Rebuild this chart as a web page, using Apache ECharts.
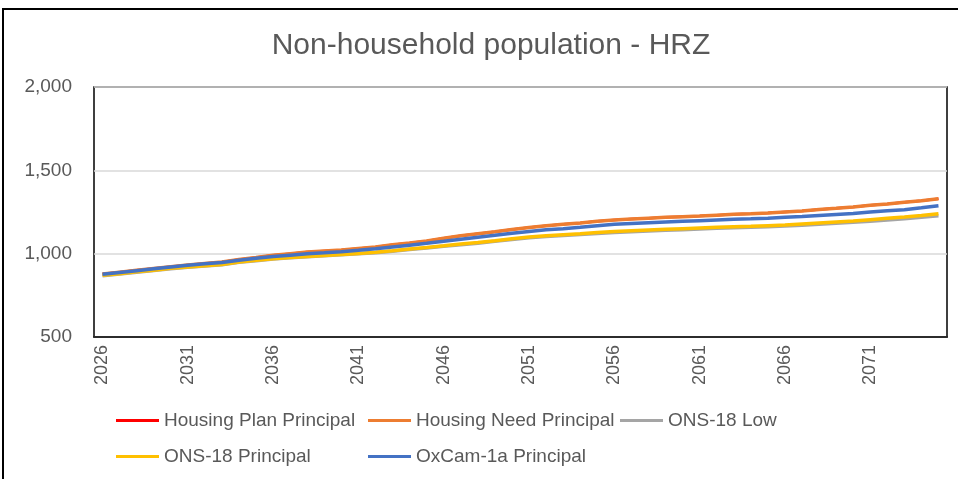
<!DOCTYPE html>
<html>
<head>
<meta charset="utf-8">
<script src="https://cdn.jsdelivr.net/npm/echarts@6/dist/echarts.min.js"></script>
<style>
  html, body { margin: 0; padding: 0; background: #fff; }
  #chart { width: 958px; height: 479px; }
</style>
</head>
<body>
<div id="chart"></div>
<script>
const years = []
for (let y = 2026; y <= 2075; y++) years.push(String(y))

const housingNeed = [878, 889, 900, 911, 922, 932, 941, 950, 965, 977,
  990, 1000, 1010, 1016, 1022, 1031, 1040, 1053, 1064, 1076,
  1092, 1108, 1120, 1132, 1145, 1157, 1168, 1176, 1184, 1195,
  1202, 1208, 1213, 1218, 1222, 1226, 1231, 1236, 1239, 1244,
  1250, 1256, 1265, 1272, 1280, 1290, 1298, 1309, 1318, 1330]

// not visible in the picture: sits under Housing Need
const housingPlan = housingNeed.slice()

const onsLow = [868, 878, 889, 899, 910, 918, 926, 933, 948, 958,
  968, 975, 981, 987, 993, 999, 1006, 1015, 1025, 1034,
  1044, 1054, 1063, 1074, 1085, 1095, 1103, 1109, 1115, 1121,
  1127, 1132, 1136, 1140, 1144, 1148, 1152, 1155, 1158, 1162,
  1166, 1171, 1176, 1182, 1188, 1195, 1202, 1209, 1218, 1228]

const onsPrincipal = [870, 880, 891, 901, 912, 920, 928, 935, 950, 960,
  970, 977, 983, 989, 995, 1001, 1009, 1018, 1028, 1037,
  1047, 1058, 1067, 1078, 1090, 1100, 1108, 1114, 1120, 1127,
  1133, 1138, 1142, 1146, 1150, 1154, 1158, 1161, 1164, 1168,
  1172, 1178, 1184, 1190, 1196, 1204, 1212, 1220, 1229, 1240]

const oxcam = [876, 887, 898, 909, 920, 930, 939, 947, 961, 972,
  983, 991, 999, 1005, 1012, 1020, 1029, 1040, 1051, 1062,
  1074, 1087, 1099, 1110, 1122, 1133, 1143, 1150, 1158, 1168,
  1176, 1181, 1186, 1190, 1194, 1198, 1202, 1206, 1209, 1213,
  1218, 1223, 1229, 1235, 1241, 1250, 1257, 1264, 1275, 1288]

const yTicks = [500, 1000, 1500, 2000]

const names = ['Housing Plan Principal', 'Housing Need Principal', 'ONS-18 Low', 'ONS-18 Principal', 'OxCam-1a Principal']
const colors = ['#FF0000', '#ED7D31', '#A5A5A5', '#FFC000', '#4472C4']
const values = [housingPlan, housingNeed, onsLow, onsPrincipal, oxcam]
// red is thinner so the orange one fully hides it
const widths = [2.5, 3.5, 3.5, 3.5, 3.5]

const font = 'Liberation Sans, Arial, sans-serif'
const textColor = '#595959'

// legend spots, one legend per item so the columns line up like Excel
const legendSpots = [[116, 411], [368, 411], [620, 411], [116, 447], [368, 447]]

const chart = echarts.init(document.getElementById('chart'))

const option = {
  animation: false,
  backgroundColor: '#fff',
  title: {
    text: 'Non-household population - HRZ',
    left: 486,
    top: 26,
    textAlign: 'center',
    textStyle: { fontFamily: font, fontSize: 30, fontWeight: 'normal', color: textColor }
  },
  graphic: [{
    type: 'rect',
    shape: { x: 3, y: 9, width: 1000, height: 500 },
    style: { fill: 'none', stroke: '#000', lineWidth: 2 },
    z: -1
  }],
  legend: names.map((n, i) => ({
    data: [n],
    left: legendSpots[i][0],
    top: legendSpots[i][1],
    padding: 0,
    icon: 'rect',
    itemWidth: 43,
    itemHeight: 3,
    textStyle: { fontFamily: font, fontSize: 19, color: textColor }
  })),
  grid: {
    left: 94, right: 11, top: 87, bottom: 142,
    show: true,
    borderColor: '#000',
    borderWidth: 1.5
  },
  xAxis: {
    type: 'category',
    data: years,
    boundaryGap: true,
    axisLine: { lineStyle: { color: '#000', width: 1.5 } },
    axisTick: { interval: 4, length: 6, lineStyle: { color: '#000', width: 1.5 } },
    axisLabel: {
      interval: 4, rotate: 90, margin: 8,
      fontFamily: font, fontSize: 18, color: textColor
    }
  },
  yAxis: {
    type: 'value',
    min: yTicks[0],
    max: yTicks[yTicks.length - 1],
    interval: 500,
    axisLine: { show: false },
    axisTick: { show: false },
    splitLine: { lineStyle: { color: '#D9D9D9', width: 1.5 } },
    axisLabel: {
      margin: 22,
      fontFamily: font, fontSize: 19, color: textColor,
      formatter: v => v.toLocaleString('en-US')
    }
  },
  series: names.map((n, i) => ({
    name: n,
    type: 'line',
    data: values[i],
    symbol: 'none',
    color: colors[i],
    lineStyle: { color: colors[i], width: widths[i] }
  }))
}

chart.setOption(option)
</script>
</body>
</html>
